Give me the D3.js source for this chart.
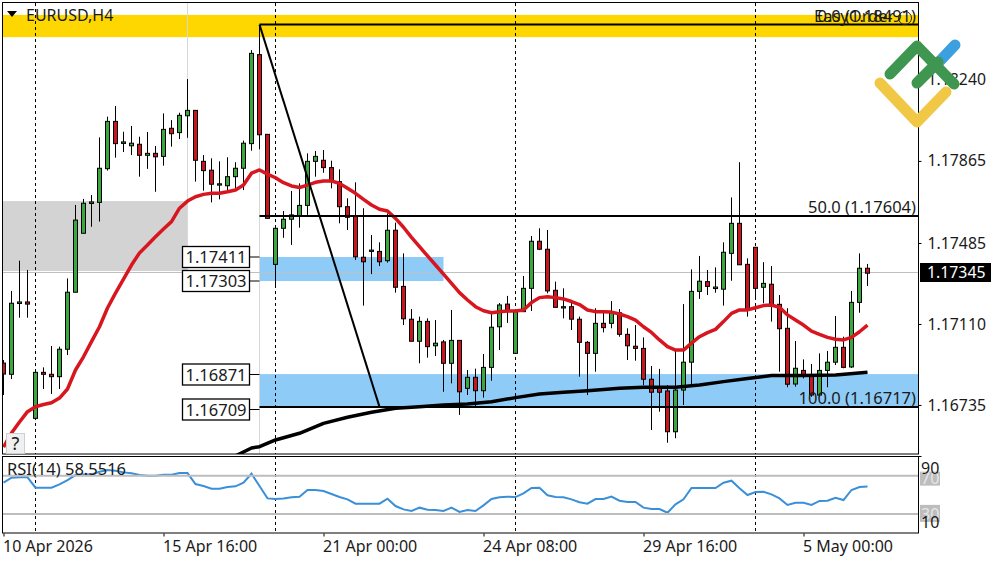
<!DOCTYPE html>
<html>
<head>
<meta charset="utf-8">
<title>EURUSD,H4</title>
<script src="https://cdn.jsdelivr.net/npm/d3@7"></script>
<style>
body { margin: 0; background: #fff; }
svg { display: block; }
text { font-family: "Noto Sans", sans-serif; font-size: 16px; fill: #1a1a1a; }
text.wide { font-size: 16.5px; }
</style>
</head>
<body>
<svg id="chart" width="1000" height="562"></svg>
<script>
var opens = [
    1.16929, 1.16877, 1.17205, 1.17212, 1.16673, 1.16886, 1.16877, 1.16866, 1.16993, 1.17257,
    1.17530, 1.17668, 1.17673, 1.17829, 1.18048, 1.17946, 1.17935, 1.17942, 1.17891, 1.17900,
    1.17886, 1.18016, 1.17996, 1.18074, 1.18099, 1.17863, 1.17822, 1.17753, 1.17750, 1.17792,
    1.17831, 1.17945, 1.18357, 1.17988, 1.17386, 1.17553, 1.17595, 1.17611, 1.17659, 1.17863,
    1.17868, 1.17834, 1.17769, 1.17653, 1.17610, 1.17419, 1.17446, 1.17446, 1.17403, 1.17544,
    1.17284, 1.17132, 1.17030, 1.17122, 1.17009, 1.17027, 1.16928, 1.17034, 1.16812, 1.16863,
    1.16801, 1.16909, 1.17097, 1.17202, 1.16974, 1.17167, 1.17275, 1.17493, 1.17456, 1.17266,
    1.17184, 1.17190, 1.17132, 1.17025, 1.16974, 1.17113, 1.17113, 1.17162, 1.17062, 1.17007,
    1.16997, 1.16854, 1.16812, 1.16800, 1.16611, 1.16804, 1.16933, 1.17261, 1.17306, 1.17274,
    1.17271, 1.17437, 1.17576, 1.17386, 1.17465, 1.17280, 1.17294, 1.17201, 1.17090, 1.16832,
    1.16895, 1.16874, 1.16781, 1.16895, 1.16933, 1.17002, 1.16911, 1.17210, 1.17368
];
var highs = [
    1.16943, 1.17263, 1.17403, 1.17360, 1.16888, 1.16909, 1.17008, 1.17005, 1.17321, 1.17661,
    1.17689, 1.17707, 1.17974, 1.18070, 1.18119, 1.18000, 1.18027, 1.17977, 1.17999, 1.17934,
    1.18085, 1.18054, 1.18088, 1.18244, 1.18099, 1.17892, 1.17877, 1.17863, 1.17882, 1.17859,
    1.17959, 1.18378, 1.18494, 1.17988, 1.17553, 1.17633, 1.17726, 1.17761, 1.17900, 1.17911,
    1.17915, 1.17866, 1.17826, 1.17692, 1.17766, 1.17646, 1.17522, 1.17488, 1.17622, 1.17579,
    1.17437, 1.17179, 1.17144, 1.17136, 1.17128, 1.17036, 1.17175, 1.17034, 1.16897, 1.16903,
    1.16971, 1.17167, 1.17207, 1.17240, 1.17170, 1.17332, 1.17517, 1.17553, 1.17545, 1.17306,
    1.17275, 1.17207, 1.17144, 1.17031, 1.17183, 1.17167, 1.17216, 1.17179, 1.17090, 1.17105,
    1.17048, 1.16915, 1.16902, 1.16827, 1.16989, 1.17202, 1.17363, 1.17425, 1.17360, 1.17372,
    1.17488, 1.17696, 1.17859, 1.17414, 1.17466, 1.17396, 1.17378, 1.17244, 1.17183, 1.17031,
    1.16946, 1.16925, 1.16974, 1.16985, 1.17147, 1.17051, 1.17263, 1.17437, 1.17388
];
var lows = [
    1.16781, 1.16855, 1.17139, 1.17139, 1.16665, 1.16809, 1.16786, 1.16809, 1.16966, 1.17257,
    1.17530, 1.17560, 1.17584, 1.17820, 1.17880, 1.17906, 1.17892, 1.17792, 1.17828, 1.17722,
    1.17843, 1.17931, 1.17966, 1.17972, 1.17769, 1.17727, 1.17673, 1.17687, 1.17722, 1.17738,
    1.17730, 1.17912, 1.17919, 1.17599, 1.17283, 1.17509, 1.17476, 1.17556, 1.17615, 1.17792,
    1.17810, 1.17738, 1.17576, 1.17545, 1.17406, 1.17195, 1.17341, 1.17378, 1.17394, 1.17255,
    1.17105, 1.17030, 1.16928, 1.16954, 1.16962, 1.16796, 1.16835, 1.16689, 1.16781, 1.16730,
    1.16769, 1.16847, 1.16989, 1.17115, 1.16974, 1.17167, 1.17170, 1.17452, 1.17252, 1.17187,
    1.17136, 1.17082, 1.16866, 1.16781, 1.16889, 1.17071, 1.17090, 1.17051, 1.16943, 1.16940,
    1.16827, 1.16619, 1.16704, 1.16560, 1.16581, 1.16735, 1.16827, 1.17226, 1.17244, 1.17255,
    1.17195, 1.17310, 1.17383, 1.17144, 1.17221, 1.17206, 1.17121, 1.16889, 1.16817, 1.16820,
    1.16858, 1.16773, 1.16773, 1.16817, 1.16920, 1.16905, 1.16906, 1.17162, 1.17286
];
var closes = [
    1.16878, 1.17206, 1.17212, 1.17202, 1.16886, 1.16877, 1.16866, 1.16993, 1.17257, 1.17591,
    1.17669, 1.17675, 1.17831, 1.18048, 1.17945, 1.17953, 1.17947, 1.17891, 1.17900, 1.17884,
    1.18011, 1.17991, 1.18076, 1.18099, 1.17868, 1.17820, 1.17757, 1.17759, 1.17792, 1.17831,
    1.17947, 1.18363, 1.17986, 1.17599, 1.17553, 1.17595, 1.17615, 1.17659, 1.17863, 1.17886,
    1.17834, 1.17769, 1.17653, 1.17604, 1.17421, 1.17398, 1.17452, 1.17398, 1.17544, 1.17280,
    1.17134, 1.17030, 1.17122, 1.17005, 1.17021, 1.16928, 1.17034, 1.16796, 1.16863, 1.16801,
    1.16909, 1.17095, 1.17198, 1.17167, 1.17167, 1.17275, 1.17493, 1.17456, 1.17263, 1.17187,
    1.17190, 1.17132, 1.17025, 1.16974, 1.17113, 1.17093, 1.17167, 1.17062, 1.17009, 1.16997,
    1.16854, 1.16794, 1.16794, 1.16611, 1.16804, 1.16933, 1.17261, 1.17308, 1.17284, 1.17281,
    1.17442, 1.17576, 1.17384, 1.17175, 1.17275, 1.17298, 1.17198, 1.17088, 1.16831, 1.16905,
    1.16874, 1.16781, 1.16895, 1.16933, 1.17002, 1.16909, 1.17210, 1.17368, 1.17345
];
var redMa = [
    1.16540, 1.16605, 1.16656, 1.16704, 1.16727, 1.16737, 1.16745, 1.16767, 1.16809, 1.16897,
    1.16958, 1.17028, 1.17097, 1.17184, 1.17253, 1.17318, 1.17383, 1.17439, 1.17476, 1.17514,
    1.17550, 1.17584, 1.17646, 1.17679, 1.17699, 1.17710, 1.17715, 1.17715, 1.17722, 1.17730,
    1.17753, 1.17808, 1.17823, 1.17804, 1.17787, 1.17764, 1.17749, 1.17742, 1.17753, 1.17766,
    1.17772, 1.17772, 1.17761, 1.17738, 1.17715, 1.17687, 1.17661, 1.17641, 1.17633, 1.17599,
    1.17558, 1.17511, 1.17468, 1.17425, 1.17383, 1.17341, 1.17298, 1.17255, 1.17221, 1.17190,
    1.17171, 1.17162, 1.17167, 1.17170, 1.17170, 1.17175, 1.17209, 1.17232, 1.17236, 1.17232,
    1.17226, 1.17214, 1.17200, 1.17175, 1.17167, 1.17167, 1.17165, 1.17156, 1.17144, 1.17128,
    1.17097, 1.17071, 1.17036, 1.17005, 1.16989, 1.16989, 1.17021, 1.17051, 1.17070, 1.17085,
    1.17121, 1.17159, 1.17175, 1.17175, 1.17185, 1.17195, 1.17198, 1.17187, 1.17152, 1.17128,
    1.17105, 1.17077, 1.17062, 1.17048, 1.17039, 1.17036, 1.17048, 1.17074, 1.17105
];
var blackMaBars = [29, 31, 32, 34, 37, 40, 43, 46, 49, 52, 55, 58, 61, 64, 67, 70, 73, 77, 80, 84, 87, 90, 93, 96, 100, 104, 108];
var blackMa = [
    1.16499, 1.16536, 1.16542, 1.16573, 1.16604, 1.16650, 1.16678, 1.16701, 1.16720, 1.16727,
    1.16735, 1.16739, 1.16750, 1.16769, 1.16786, 1.16794, 1.16801, 1.16812, 1.16817, 1.16817,
    1.16827, 1.16843, 1.16858, 1.16871, 1.16872, 1.16874, 1.16886
];
var rsi = [
    62.6, 67.9, 68.2, 68.2, 57.4, 57.4, 57.4, 60.9, 65.4, 70.6,
    71.3, 71.3, 74.1, 75.9, 75.2, 73.4, 72.4, 70.6, 70.0, 70.0,
    71.0, 71.0, 72.7, 72.7, 61.2, 59.1, 56.4, 56.4, 58.1, 58.8,
    62.6, 72.0, 59.1, 46.2, 45.5, 46.2, 47.3, 48.0, 55.0, 55.0,
    53.9, 50.8, 47.6, 45.2, 40.7, 40.7, 40.7, 40.7, 45.9, 38.2,
    34.7, 33.0, 36.5, 34.4, 34.0, 33.0, 36.5, 32.0, 34.0, 33.0,
    38.9, 45.5, 47.3, 48.0, 47.6, 51.5, 57.1, 57.4, 49.4, 47.6,
    47.3, 45.2, 42.1, 40.7, 45.5, 45.5, 48.0, 43.8, 42.4, 42.4,
    36.5, 35.1, 35.1, 31.2, 40.0, 45.2, 57.1, 57.1, 57.1, 57.1,
    62.6, 64.7, 56.7, 49.7, 52.9, 53.2, 50.4, 46.2, 39.3, 41.7,
    41.7, 39.3, 43.5, 43.8, 46.9, 44.5, 55.0, 58.1, 58.55
];
var priceTicks = [1.1824, 1.17865, 1.17485, 1.1711, 1.16735];
var timeTicks = [0, 20, 40, 60, 80, 100];
var timeLabels = ['10 Apr 2026', '15 Apr 16:00', '21 Apr 00:00', '24 Apr 08:00', '29 Apr 16:00', '5 May 00:00'];
var separatorBars = [4, 34, 64, 94];
var fibPrices = [1.18496, 1.17610, 1.16726];
var fibLabels = ['0.0 (1.18491)', '50.0 (1.17604)', '100.0 (1.16717)'];
var fibStartBar = 32, fibEndBar = 47;
var zoneBox = [1.17411, 1.17303, 1.16871, 1.16709];
var zonePrices = [1.17420, 1.17309, 1.16878, 1.16722];
var bidPrice = 1.17345;
var levels = [70, 30];

var left = 3, right = 918, mainTop = 3, mainBottom = 454, rsiTop = 456, rsiBottom = 533;
var green = '#3aa83f', red = '#c9151e';

var svg = d3.select('#chart');
var x = d3.scaleLinear().domain([0, 108]).range([3.5, 867.5]);
var y = d3.scaleLinear().domain([1.1861, 1.16295]).range([0, 500]);
var yRsi = d3.scaleLinear().domain([10, 90]).range([rsiBottom, 456.5]);

var defs = svg.append('defs');
defs.append('clipPath').attr('id', 'clip-main').append('rect')
    .attr('x', left).attr('y', mainTop).attr('width', right - left).attr('height', mainBottom - mainTop);
defs.append('clipPath').attr('id', 'clip-rsi').append('rect')
    .attr('x', left).attr('y', rsiTop).attr('width', right - left).attr('height', rsiBottom - rsiTop);

var main = svg.append('g').attr('clip-path', 'url(#clip-main)');
var sub = svg.append('g').attr('clip-path', 'url(#clip-rsi)');

function separators(g, y1, y2) {
    g.selectAll('line.sep').data(separatorBars).enter().append('line')
        .attr('class', 'sep')
        .attr('x1', function(d) { return x(d); })
        .attr('x2', function(d) { return x(d); })
        .attr('y1', y1).attr('y2', y2)
        .attr('stroke', '#000').attr('stroke-dasharray', '3,3');
}

// background zones
main.append('rect').attr('x', left).attr('width', right - left)
    .attr('y', y(1.18541)).attr('height', y(1.18438) - y(1.18541)).attr('fill', '#ffd700');
main.append('rect').attr('x', left).attr('width', x(23) - left)
    .attr('y', y(1.17679)).attr('height', y(1.17355) - y(1.17679)).attr('fill', '#d3d3d3');
main.append('rect').attr('x', x(fibStartBar)).attr('width', x(55) - x(fibStartBar))
    .attr('y', y(zonePrices[0])).attr('height', y(zonePrices[1]) - y(zonePrices[0])).attr('fill', '#8ecbf7');
main.append('rect').attr('x', x(fibStartBar)).attr('width', right - x(fibStartBar))
    .attr('y', y(zonePrices[2])).attr('height', y(zonePrices[3]) - y(zonePrices[2])).attr('fill', '#8ecbf7');

// thin gray edges of the boxes
main.append('line').attr('x1', x(23)).attr('x2', x(23)).attr('y1', mainTop).attr('y2', y(1.17355))
    .attr('stroke', '#d8d8d8');
main.append('line').attr('x1', x(fibStartBar)).attr('x2', x(fibStartBar)).attr('y1', y(1.18438)).attr('y2', mainBottom)
    .attr('stroke', '#d8d8d8');

// bid line
main.append('line').attr('x1', left).attr('x2', right).attr('y1', Math.round(y(bidPrice)) - 0.5).attr('y2', Math.round(y(bidPrice)) - 0.5)
    .attr('stroke', '#c0c0c0');

separators(main, mainTop, mainBottom);

// candles
var bars = d3.range(opens.length);
var candle = main.selectAll('g.candle').data(bars).enter().append('g').attr('class', 'candle');
candle.append('line')
    .attr('x1', function(i) { return x(i); })
    .attr('x2', function(i) { return x(i); })
    .attr('y1', function(i) { return y(highs[i]); })
    .attr('y2', function(i) { return y(lows[i]); })
    .attr('stroke', '#000');
candle.append('rect')
    .attr('x', function(i) { return x(i) - 2; })
    .attr('width', 4)
    .attr('y', function(i) { return y(Math.max(opens[i], closes[i])); })
    .attr('height', function(i) { return Math.abs(y(opens[i]) - y(closes[i])); })
    .attr('fill', function(i) { return closes[i] >= opens[i] ? green : red; })
    .attr('stroke', '#000');

// moving averages
var maLine = d3.line()
    .x(function(d) { return x(d[0]); })
    .y(function(d) { return y(d[1]); });
main.append('path')
    .attr('d', maLine(redMa.map(function(v, i) { return [i, v]; })))
    .attr('fill', 'none').attr('stroke', '#d8161f').attr('stroke-width', 3.5).attr('stroke-linejoin', 'round');
main.append('path')
    .attr('d', maLine(blackMa.map(function(v, i) { return [blackMaBars[i], v]; })))
    .attr('fill', 'none').attr('stroke', '#000').attr('stroke-width', 3.5).attr('stroke-linejoin', 'round');

// fibo
main.selectAll('line.fib').data(fibPrices).enter().append('line')
    .attr('class', 'fib')
    .attr('x1', x(fibStartBar)).attr('x2', right)
    .attr('y1', function(d) { return y(d); })
    .attr('y2', function(d) { return y(d); })
    .attr('stroke', '#000').attr('stroke-width', 2);
main.append('line')
    .attr('x1', x(fibStartBar)).attr('y1', y(fibPrices[0]))
    .attr('x2', x(fibEndBar)).attr('y2', y(fibPrices[2]))
    .attr('stroke', '#000').attr('stroke-width', 2);
svg.selectAll('text.fib').data(fibLabels).enter().append('text')
    .attr('class', 'fib wide')
    .attr('x', 916).attr('text-anchor', 'end')
    .attr('y', function(d, i) { return y(fibPrices[i]) - 3; })
    .text(function(d) { return d; });
svg.append('text').attr('x', 814).attr('y', 22).attr('class', 'wide').text('EasyOrder');
svg.append('circle').attr('cx', 905).attr('cy', 18).attr('r', 6.5).attr('fill', 'none').attr('stroke', '#222');

// price labels next to the zones
var boxY = [257, 281, 374.5, 409.5];
var box = svg.selectAll('g.zone').data(zoneBox).enter().append('g').attr('class', 'zone')
    .attr('transform', function(d, i) { return 'translate(0,' + boxY[i] + ')'; });
box.append('line').attr('x1', 249).attr('x2', x(fibStartBar)).attr('stroke', '#000');
box.append('rect').attr('x', 182.5).attr('y', -10.5).attr('width', 67).attr('height', 21)
    .attr('fill', '#fff').attr('stroke', '#000').attr('stroke-width', 1.3);
box.append('text').attr('class', 'wide').attr('x', 216).attr('y', 6).attr('text-anchor', 'middle')
    .text(function(d) { return d.toFixed(5); });

// RSI
separators(sub, rsiTop, rsiBottom);
sub.append('path')
    .attr('d', d3.line().x(function(d, i) { return x(i); }).y(function(d) { return yRsi(d); })(rsi))
    .attr('fill', 'none').attr('stroke', '#3a8fd9').attr('stroke-width', 2);
sub.selectAll('line.level').data(levels).enter().append('line')
    .attr('class', 'level')
    .attr('x1', left).attr('x2', right)
    .attr('y1', function(d) { return yRsi(d); })
    .attr('y2', function(d) { return yRsi(d); })
    .attr('stroke', '#bdbdbd').attr('stroke-width', 2);
svg.append('text').attr('class', 'wide').attr('x', 7).attr('y', 475).text('RSI(14) 58.5516');

// frame
svg.append('rect').attr('x', 2.5).attr('y', 2.5).attr('width', right - 2).attr('height', mainBottom - 2.5)
    .attr('fill', 'none').attr('stroke', '#000');
svg.append('rect').attr('x', 2.5).attr('y', rsiTop + 0.5).attr('width', right - 2).attr('height', rsiBottom - rsiTop - 0.5)
    .attr('fill', 'none').attr('stroke', '#000');

// axes
var priceAxis = svg.append('g')
    .attr('transform', 'translate(' + (right + 0.5) + ',0)')
    .call(d3.axisRight(y).tickValues(priceTicks).tickSize(3).tickPadding(6).tickFormat(d3.format('.5f')));
priceAxis.select('.domain').remove();
priceAxis.selectAll('text').style('font-size', '15.8px').style('font-family', '"Noto Sans", sans-serif');

var timeAxis = svg.append('g')
    .attr('transform', 'translate(0,' + (rsiBottom + 0.5) + ')')
    .call(d3.axisBottom(x).tickValues(timeTicks).tickSize(3).tickFormat(function(d, i) { return timeLabels[i]; }));
timeAxis.select('.domain').remove();
timeAxis.selectAll('text')
    .attr('text-anchor', 'start').attr('x', -1).attr('y', 7)
    .style('font-size', '16px').style('font-family', '"Noto Sans", sans-serif');

// bid label
svg.append('rect').attr('x', 920).attr('y', 263).attr('width', 71).attr('height', 19).attr('fill', '#000');
svg.append('text').attr('x', 927).attr('y', 278).style('fill', '#fff').style('font-size', '15.8px').text(bidPrice.toFixed(5));

// RSI scale labels
levels.forEach(function(d) {
    svg.append('rect').attr('x', 920).attr('y', yRsi(d) - (d === 70 ? 4 : 9)).attr('width', 20).attr('height', d === 70 ? 14 : 17).attr('fill', '#bdbdbd');
    svg.append('text').attr('x', 921).attr('y', yRsi(d) + (d === 70 ? 8 : 6)).style('fill', '#e6e6e6').text(d);
});
svg.append('text').attr('x', 921).attr('y', 474).text('90');
svg.append('text').attr('x', 921).attr('y', 528).text('10');
svg.append('line').attr('x1', right + 0.5).attr('x2', right + 3.5).attr('y1', yRsi(90)).attr('y2', yRsi(90)).attr('stroke', '#000');

// title
svg.append('path').attr('d', 'M7,11 L17,11 L12,17 Z').attr('fill', '#000');
svg.append('text').attr('x', 26).attr('y', 21).text('EURUSD,H4');

// help button
svg.append('rect').attr('x', 6.5).attr('y', 433.5).attr('width', 18).attr('height', 20)
    .attr('fill', '#f0f0f0').attr('stroke', '#cfcfcf');
svg.append('text').attr('x', 15.5).attr('y', 450).attr('text-anchor', 'middle').style('font-size', '18px').text('?');

// logo
var logo = svg.append('g').attr('fill', 'none').attr('stroke-width', 11).attr('stroke-linecap', 'round').attr('stroke-linejoin', 'round');
logo.append('path').attr('d', 'M938,63 L955,45').attr('stroke', '#3c9fe0');
logo.append('path').attr('d', 'M880,83 L917,122 L946,92').attr('stroke', '#f0c845');
logo.append('path').attr('d', 'M890,74 L917,46 L954,84').attr('stroke', '#3f9651');
logo.append('path').attr('d', 'M917,83 L938,62').attr('stroke', '#3f9651');
</script>
</body>
</html>
